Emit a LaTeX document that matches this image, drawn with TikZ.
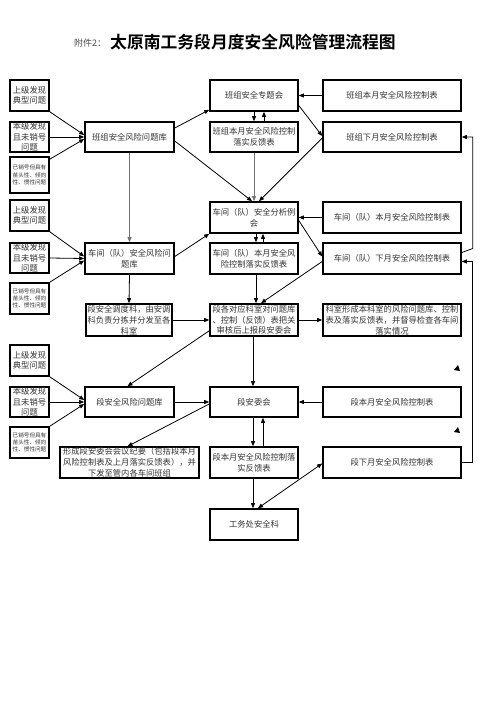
\documentclass[tikz,border=0pt]{standalone}
\usepackage{fontspec}
\setmainfont{Noto Sans CJK SC}[BoldFont={Noto Sans CJK SC Bold}]
\usetikzlibrary{arrows.meta,calc}
\begin{document}
\begin{tikzpicture}[x=1pt,y=-1pt,
  box/.style={draw, line width=1.6pt, align=center, inner sep=0pt, text=black!80,
    font=\fontsize{8.3}{10.8}\selectfont},
  lbox/.style={box, minimum width=39pt, font=\fontsize{8.3}{10.5}\selectfont},
  tbox/.style={box, minimum width=39pt, font=\fontsize{5.6}{7.2}\selectfont},
  abox/.style={box, minimum width=89pt},
  bbox/.style={box, minimum width=88pt},
  cbox/.style={box, minimum width=138pt},
  arr/.style={-{Triangle[length=5pt,width=4pt]}, line width=0.8pt},
  darr/.style={{Triangle[length=5pt,width=4pt]}-{Triangle[length=5pt,width=4pt]}, line width=0.8pt},
  garr/.style={arr, draw=black!55}
]
\useasboundingbox (0,0) rectangle (496,702);
\fill[white] (0,0) rectangle (496,702);

% title
\node[anchor=west, inner sep=0pt, text=black!70, font=\fontsize{9}{10}\selectfont] (att) at (74,43) {附件2：};
\node[anchor=west, inner sep=0pt, font=\fontsize{16.8}{18}\selectfont\bfseries] (title) at (110,42) {太原南工务段月度安全风险管理流程图};

% group 1
\node[lbox, minimum height=31pt] (g1a) at (29.5,95.5) {上级发现\\典型问题};
\node[lbox, minimum height=30pt] (g1b) at (29.5,137) {本级发现\\且未销号\\问题};
\node[tbox, minimum height=36pt] (g1c) at (29.5,175) {已销号但具有\\苗头性、倾向\\性、惯性问题};
\node[abox, minimum height=30pt] (bzk) at (129.5,137) {班组安全风险问题库};
\node[bbox, minimum height=31pt] (bzh) at (254,95.5) {班组安全专题会};
\node[bbox, minimum height=30pt] (bzfk) at (254,137) {班组本月安全风险控制\\落实反馈表};
\node[cbox, minimum height=31pt] (bzby) at (392,95.5) {班组本月安全风险控制表};
\node[cbox, minimum height=30pt] (bzxy) at (392,137) {班组下月安全风险控制表};

% group 2
\node[lbox, minimum height=31pt] (g2a) at (29.5,215.5) {上级发现\\典型问题};
\node[lbox, minimum height=30pt] (g2b) at (29.5,258) {本级发现\\且未销号\\问题};
\node[tbox, minimum height=31pt] (g2c) at (29.5,298.5) {已销号但具有\\苗头性、倾向\\性、惯性问题};
\node[abox, minimum height=31pt] (cjk) at (129.5,258.5) {车间（队）安全风险问\\题库};
\node[bbox, minimum height=31pt] (cjh) at (254,217.5) {车间（队）安全分析例\\会};
\node[bbox, minimum height=31pt] (cjfk) at (254,258.5) {车间（队）本月安全风\\险控制落实反馈表};
\node[cbox, minimum height=31pt] (cjby) at (392,217.5) {车间（队）本月安全风险控制表};
\node[cbox, minimum height=31pt] (cjxy) at (392,258.5) {车间（队）下月安全风险控制表};

% middle row
\node[box, minimum width=86pt, minimum height=32pt] (ddk) at (129,320) {段安全调度科，由安调\\科负责分拣并分发至各\\科室};
\node[bbox, minimum height=32pt] (dkdy) at (254,320) {段各对应科室对问题库\\、控制（反馈）表把关\\审核后上报段安委会};
\node[cbox, minimum height=32pt] (ksxc) at (392,320) {科室形成本科室的风险问题库、控制\\表及落实反馈表，并督导检查各车间\\落实情况};

% group 3
\node[lbox, minimum height=31pt] (g3a) at (29.5,360.5) {上级发现\\典型问题};
\node[lbox, minimum height=30pt] (g3b) at (29.5,402) {本级发现\\且未销号\\问题};
\node[tbox, minimum height=31pt] (g3c) at (29.5,442.5) {已销号但具有\\苗头性、倾向\\性、惯性问题};
\node[abox, minimum height=30pt] (dk) at (129.5,402) {段安全风险问题库};
\node[bbox, minimum height=30pt] (daw) at (254,402) {段安委会};
\node[cbox, minimum height=30pt] (dby) at (392,402) {段本月安全风险控制表};
\node[box, line width=1.3pt, minimum width=139pt, minimum height=31pt] (xcjy) at (129.5,462.5) {形成段安委会会议纪要（包括段本月\\风险控制表及上月落实反馈表），并\\下发至管内各车间班组};
\node[bbox, minimum height=31pt] (dfk) at (254,462.5) {段本月安全风险控制落\\实反馈表};
\node[cbox, minimum height=31pt] (dxy) at (392,462.5) {段下月安全风险控制表};
\node[bbox, minimum height=31pt] (gwc) at (254,524.5) {工务处安全科};

% group 1 connectors
\draw[arr] (g1a.south east) -- ($(bzk.west)+(0,-2)$);
\draw[arr] (g1b.east) -- (bzk.west);
\draw[arr] ($(g1c.north east)+(0,3)$) -- ($(bzk.west)+(0,2)$);
\draw[arr] ($(bzk.east)+(0,-9)$) -- ($(bzh.south west)+(0,-2)$);
\draw[arr] ($(bzk.east)+(0,4)$) -- ($(cjh.north)+(-2,0)$);
\draw[arr] (bzby.west) -- (bzh.east);
\draw[arr] (bzh.south) -- (bzfk.north);
\draw[arr] ($(bzfk.north)+(10,0)$) -- ($(bzh.south)+(10,0)$);
\draw[arr] ($(bzh.east)+(0,10)$) -- ($(bzxy.west)+(0,-1)$);
\draw[arr] ($(bzxy.west)+(0,1)$) -- ($(cjh.north)+(5,0)$);
\draw[garr] (bzfk.south) -- (cjh.north);
\draw[garr] (bzk.south) -- (cjk.north);

% group 2 connectors
\draw[arr] (g2a.south east) -- ($(cjk.west)+(0,-2)$);
\draw[arr] (g2b.east) -- (cjk.west);
\draw[arr] (g2c.north east) -- ($(cjk.west)+(0,2)$);
\draw[arr] ($(cjk.east)+(0,-2)$) -- (cjh.south west);
\draw[arr] (cjby.west) -- (cjh.east);
\draw[arr] ($(cjh.south)+(2,0)$) -- ($(cjfk.north)+(2,0)$);
\draw[arr] ($(cjfk.north)+(9,0)$) -- ($(cjh.south)+(9,0)$);
\draw[arr] ($(cjh.east)+(0,3)$) -- ($(cjxy.west)+(0,-2)$);
\draw[arr] ($(cjxy.west)+(0,3)$) -- ($(dkdy.north)+(7,0)$);
\draw[arr] ($(cjfk.south)+(2,0)$) -- ($(dkdy.north)+(2,0)$);
\draw[arr] (cjk.south) -- (ddk.north);

% middle connectors
\draw[arr] (ddk.east) -- (dkdy.west);
\draw[arr] (dkdy.east) -- (ksxc.west);
\draw[arr] ($(dkdy.south west)+(0,-6)$) -- ($(dk.north)+(-2,0)$);
\draw[arr] ($(dkdy.south)+(-1,0)$) -- ($(daw.north)+(-1,0)$);

% group 3 connectors
\draw[arr] (g3a.south east) -- ($(dk.west)+(0,-2)$);
\draw[arr] (g3b.east) -- (dk.west);
\draw[arr] (g3c.north east) -- ($(dk.west)+(0,2)$);
\draw[arr] (dk.east) -- (daw.west);
\draw[arr] (dby.west) -- (daw.east);
\draw[arr] ($(daw.south)+(-1,0)$) -- ($(dfk.north)+(-1,0)$);
\draw[arr] ($(dfk.north)+(9,0)$) -- ($(daw.south)+(9,0)$);
\draw[arr] ($(daw.west)+(0,2)$) -- ($(xcjy.north)+(-2,0)$);
\draw[arr] ($(dfk.south)+(-1,0)$) -- ($(gwc.north)+(-1,0)$);
\draw[darr] ($(dxy.west)+(0,1)$) -- ($(gwc.north)+(4,0)$);

% right feedback lines
\draw[arr] (dxy.east) -- ++(11,0) |- ($(cjxy.east)+(0,3)$);
\draw[arr] ($(cjxy.east)+(0,-6)$) -- ($(cjxy.east)+(11,-10)$) |- (bzxy.east);

% stray arrowheads
\fill (454,370) -- (458,365) -- (460,371) -- cycle;
\fill (454,432) -- (458,427) -- (460,433) -- cycle;
\end{tikzpicture}
\end{document}
